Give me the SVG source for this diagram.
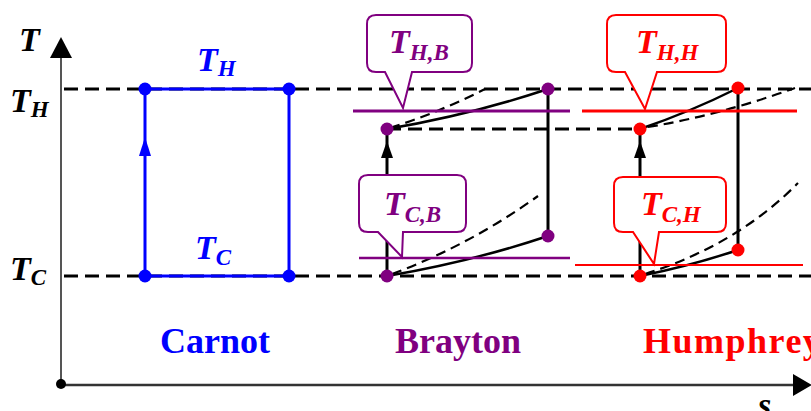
<svg xmlns="http://www.w3.org/2000/svg" width="811" height="411" viewBox="0 0 811 411">
<style>
.lbl{font-family:"Liberation Serif","Times New Roman",serif;font-style:italic;font-weight:bold;font-size:34px}
.sub{font-size:23px}
.name{font-family:"Liberation Serif","Times New Roman",serif;font-weight:bold;font-size:36px}
.dash{stroke:#000;stroke-width:3;stroke-dasharray:14 7;fill:none}
.dsh2{stroke:#000;stroke-width:2.2;stroke-dasharray:10 6;fill:none}
.blk{stroke:#000;stroke-width:3;fill:none}
.cur{stroke:#000;stroke-width:2.5;fill:none}
.call{stroke-width:2;fill:#fff}
</style>
<rect width="811" height="411" fill="#fff"/>
<g id="axes">
<line x1="61" y1="384" x2="61" y2="55" stroke="#555" stroke-width="2"/>
<polygon points="61,37 50,58 72,58" fill="#000"/>
<line x1="61" y1="385" x2="796" y2="385" stroke="#333" stroke-width="2.5"/>
<polygon points="812,385 793,374 793,396" fill="#000"/>
<circle cx="61" cy="384" r="5" fill="#000"/>
<text class="lbl" x="19" y="51">T</text>
<text class="lbl" x="10" y="112">T<tspan class="sub" dy="5">H</tspan></text>
<text class="lbl" x="10" y="280">T<tspan class="sub" dy="5">C</tspan></text>
<text class="lbl" x="758" y="416" font-size="24">s</text>
</g>
<g id="connectors">
<line class="dash" x1="64" y1="89" x2="811" y2="89"/>
<line class="dash" x1="64" y1="276" x2="811" y2="276"/>
<line class="dash" x1="387" y1="129" x2="640" y2="129"/>
<path class="dsh2" d="M390,128 Q440,112 485,89"/>
<path class="cur" d="M387,129 Q470,115 548,89"/>
<path class="dsh2" d="M392,274 Q470,245 538,196"/>
<path class="cur" d="M387,276 Q470,262 548,236"/>
<line class="blk" x1="387" y1="276" x2="387" y2="129"/>
<polygon points="387,141 381,158 393,158" fill="#000"/>
<line class="blk" x1="548" y1="89" x2="548" y2="236"/>
<path class="dsh2" d="M648,127 Q720,115 795,88"/>
<path class="cur" d="M640,129 Q690,112 738,88"/>
<path class="dsh2" d="M645,274 Q737,245 798,183"/>
<path class="cur" d="M640,276 Q690,266 738,250"/>
<line class="blk" x1="640" y1="276" x2="640" y2="129"/>
<polygon points="640,141 634,158 646,158" fill="#000"/>
<line class="blk" x1="738" y1="88" x2="738" y2="250"/>
</g>
<g id="carnot" fill="#0000ff">
<rect x="145" y="89" width="144" height="187" fill="none" stroke="#0000ff" stroke-width="3"/>
<polygon points="145,137 139,156 151,156"/>
<circle cx="145" cy="89" r="6.5"/>
<circle cx="289" cy="89" r="6.5"/>
<circle cx="145" cy="276" r="6.5"/>
<circle cx="289" cy="276" r="6.5"/>
<text class="lbl" x="197" y="71">T<tspan class="sub" dy="5">H</tspan></text>
<text class="lbl" x="195" y="259">T<tspan class="sub" dy="6">C</tspan></text>
<text class="name" x="215" y="353" text-anchor="middle">Carnot</text>
</g>
<g id="brayton" fill="#800080">
<line x1="353" y1="111" x2="570" y2="111" stroke="#800080" stroke-width="3"/>
<line x1="359" y1="258" x2="570" y2="258" stroke="#800080" stroke-width="2.5"/>
<circle cx="387" cy="129" r="6.5"/>
<circle cx="548" cy="89" r="6.5"/>
<circle cx="387" cy="276" r="6.5"/>
<circle cx="548" cy="236" r="6.5"/>
<text class="name" x="395" y="353">Brayton</text>
</g>
<g id="callout-thb">
<path class="call" stroke="#800080" d="M376,15 H463 Q472,15 472,24 V63 Q472,72 463,72 H412 L403,108 L385,72 H376 Q367,72 367,63 V24 Q367,15 376,15 Z"/>
<text class="lbl" x="389" y="53" fill="#800080">T<tspan class="sub" dy="7">H,B</tspan></text>
</g>
<g id="callout-tcb">
<path class="call" stroke="#800080" d="M368,175 H457 Q466,175 466,184 V223 Q466,232 457,232 H403 L402,257 L378,232 H368 Q359,232 359,223 V184 Q359,175 368,175 Z"/>
<text class="lbl" x="384" y="215" fill="#800080">T<tspan class="sub" dy="7">C,B</tspan></text>
</g>
<g id="humphrey" fill="#ff0000">
<line x1="582" y1="111" x2="797" y2="111" stroke="#ff0000" stroke-width="3"/>
<line x1="575" y1="265" x2="803" y2="265" stroke="#ff0000" stroke-width="2"/>
<circle cx="640" cy="129" r="6.5"/>
<circle cx="738" cy="88" r="6.5"/>
<circle cx="640" cy="276" r="6.5"/>
<circle cx="738" cy="250" r="6.5"/>
<text class="name" x="643" y="353" letter-spacing="1.5">Humphrey</text>
</g>
<g id="callout-thh">
<path class="call" stroke="#ff0000" d="M616,15 H717 Q726,15 726,24 V63 Q726,72 717,72 H657 L645,109 L625,72 H616 Q607,72 607,63 V24 Q607,15 616,15 Z"/>
<text class="lbl" x="636" y="53" fill="#ff0000">T<tspan class="sub" dy="7">H,H</tspan></text>
</g>
<g id="callout-tch">
<path class="call" stroke="#ff0000" d="M623,177 H717 Q726,177 726,186 V223 Q726,232 717,232 H659 L654,264 L633,232 H623 Q614,232 614,223 V186 Q614,177 623,177 Z"/>
<text class="lbl" x="641" y="215" fill="#ff0000">T<tspan class="sub" dy="7">C,H</tspan></text>
</g>
</svg>
